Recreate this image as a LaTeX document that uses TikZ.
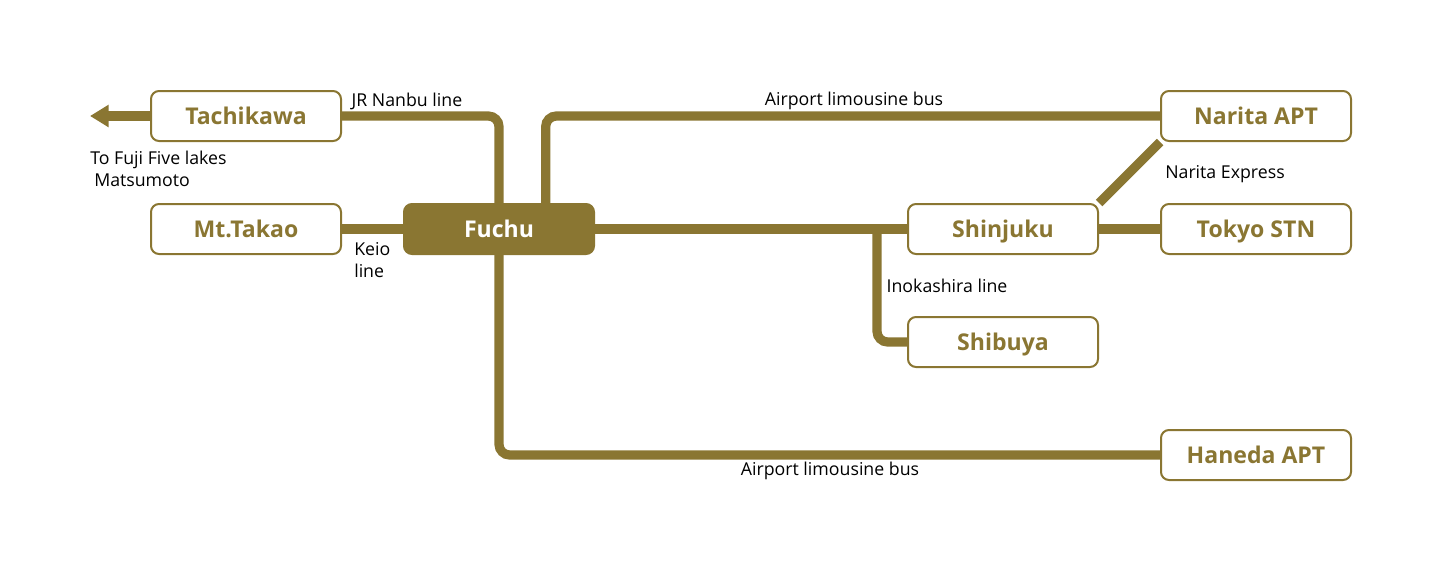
\documentclass[tikz,border=0pt]{standalone}
\usepackage{fontspec}
\setmainfont{Open Sans}
\usetikzlibrary{positioning,arrows.meta,backgrounds}
\definecolor{gold}{RGB}{138,118,50}

\begin{document}
\begin{tikzpicture}[x=0.75pt, y=-0.75pt, node distance=45.75pt,
	stn/.style={rectangle, rounded corners=6pt, draw=gold, line width=1.5pt, fill=white,
		minimum width=142.5pt, minimum height=37.5pt, text height=12.3pt, text depth=0pt,
		text=gold, font=\fontsize{17.3}{20}\selectfont\bfseries},
	hub/.style={stn, fill=gold, text=white},
	rail/.style={draw=gold, line width=6.9pt, rounded corners=8pt},
	lbl/.style={font=\fontsize{13.3}{16.5}\selectfont, inner sep=0pt}]
	\useasboundingbox (0,0) rectangle (1443,572);
	\node[hub] (fuchu) at (499,229)                          {Fuchu};
	\node[stn] (takao) [left=of fuchu]                       {Mt.Takao};
	\node[stn] (tachikawa) [above=of takao]                  {Tachikawa};
	\node[stn] (shinjuku) [right=234pt of fuchu]             {Shinjuku};
	\node[stn] (tokyo) [right=of shinjuku]                   {Tokyo STN};
	\node[stn] (narita) [above=of tokyo]                     {Narita APT};
	\node[stn] (shibuya) [below=of shinjuku]                 {Shibuya};
	\node[stn] (haneda) [below=130.5pt of tokyo]             {Haneda APT};
	\coordinate (fuji) at ([xshift=-45pt]tachikawa.west);

	\node[lbl] (nanbu) at (407,101)                          {JR Nanbu line};
	\node[lbl, align=left, anchor=west] (fujilbl) at (90,169) {To Fuji Five lakes\\\hspace{3pt}Matsumoto};
	\node[lbl, align=left, anchor=west] (keio) at (354,260)  {Keio\\line};
	\node[lbl] (busnar) at (854,101)                         {Airport limousine bus};
	\node[lbl] (nex) at (1225,174)                           {Narita Express};
	\node[lbl] (inokashira) at (947,286)                     {Inokashira line};
	\node[lbl] (busnan) at (830,471)                         {Airport limousine bus};

	\begin{scope}[on background layer]
	\draw[rail, -{Triangle[length=14pt,width=16pt]}] (tachikawa.west) -- (fuji);
	\draw[rail] (tachikawa.east) -| (fuchu.north);
	\draw[rail] ([xshift=35pt]fuchu.north) |- (narita.west);
	\draw[rail] (takao.east) -- (fuchu.west);
	\draw[rail] (fuchu.east) -- (shinjuku.west);
	\draw[rail] ([xshift=-22.5pt]shinjuku.west) |- (shibuya.west);
	\draw[rail] (shinjuku.east) -- (tokyo.west);
	\draw[rail] (shinjuku.north east) -- (narita.south west);
	\draw[rail] (fuchu.south) |- (haneda.west);
	\end{scope}
\end{tikzpicture}
\end{document}
